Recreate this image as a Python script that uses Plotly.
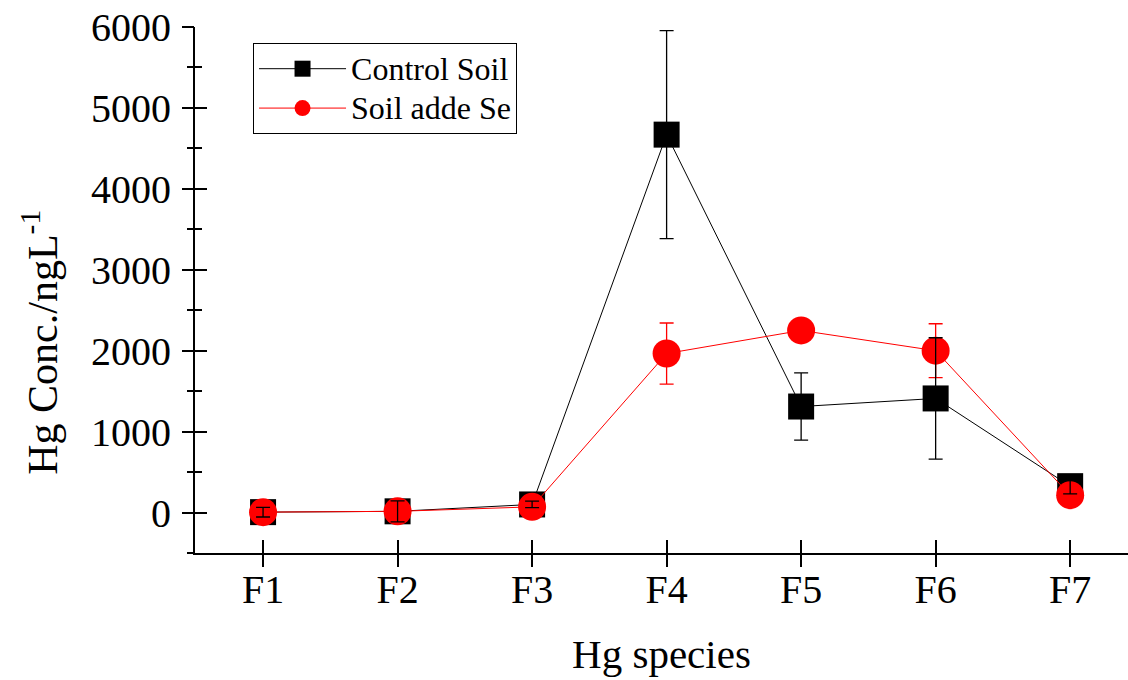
import plotly.graph_objects as go

species = ["F1", "F2", "F3", "F4", "F5", "F6", "F7"]
control_soil = [5, 15, 100, 4670, 1310, 1410, 326]
control_err = [60, 130, 40, 1285, 415, 750, 95]
se_added = [5, 15, 70, 1965, 2250, 2000, 214]
se_err = [60, 40, 30, 377, 40, 333, 30]
y_ticks = [0, 1000, 2000, 3000, 4000, 5000, 6000]
series_names = ["Control Soil", "Soil adde Se"]

FONT = "Liberation Serif, Times New Roman, serif"


def legend_label(name):
    return '<span style="font-size:32px">' + name + "</span>"


fig = go.Figure()
fig.add_trace(go.Scatter(
    x=species, y=control_soil, name=legend_label(series_names[0]), mode="lines+markers",
    line=dict(color="black", width=1),
    marker=dict(symbol="square", size=26, color="black"),
))
fig.add_trace(go.Scatter(
    x=species, y=se_added, name=legend_label(series_names[1]), mode="lines+markers",
    line=dict(color="red", width=1),
    marker=dict(symbol="circle", size=28, color="red"),
    error_y=dict(type="data", array=se_err, color="red", thickness=1.3, width=7),
))
# control error bars drawn on top (overlay axes)
fig.add_trace(go.Scatter(
    x=species, y=control_soil, mode="markers", showlegend=False,
    marker=dict(size=2, opacity=0, color="black"),
    error_y=dict(type="data", array=control_err, color="black", thickness=1.3, width=7),
    xaxis="x2", yaxis="y2", hoverinfo="skip",
))

xr = [-0.506, 6.43]
yr = [-500, 6000]
tickfont = dict(family=FONT, size=40, color="black")

fig.update_layout(
    width=1128, height=680,
    margin=dict(l=195, r=0, t=27, b=127),
    paper_bgcolor="white", plot_bgcolor="white",
    font=dict(family=FONT, color="black"),
    xaxis=dict(
        type="category", categoryorder="array", categoryarray=species,
        range=xr, showline=True, linecolor="black", linewidth=2,
        ticks="inside", ticklen=13, tickwidth=2, tickcolor="black",
        tickfont=tickfont, showgrid=False, zeroline=False, ticklabelstandoff=0,
        title=dict(text="Hg species", font=dict(family=FONT, size=41), standoff=28),
    ),
    yaxis=dict(
        range=yr, tickvals=y_ticks,
        showline=True, linecolor="black", linewidth=2,
        ticks="inside", ticklen=12, tickwidth=2, tickcolor="black",
        minor=dict(dtick=500, tick0=-500, ticks="inside", ticklen=7, tickwidth=2, tickcolor="black"),
        tickfont=tickfont, showgrid=False, zeroline=False, ticklabelstandoff=14,
    ),
    xaxis2=dict(
        type="category", categoryorder="array", categoryarray=species,
        overlaying="x", range=xr, showticklabels=False, showline=False,
        ticks="outside", ticklen=13, tickwidth=2, tickcolor="black",
        showgrid=False, zeroline=False,
    ),
    yaxis2=dict(
        overlaying="y", range=yr, tickvals=y_ticks,
        showticklabels=False, showline=False,
        ticks="outside", ticklen=12, tickwidth=2, tickcolor="black",
        minor=dict(dtick=500, tick0=-500, ticks="outside", ticklen=7, tickwidth=2, tickcolor="black"),
        showgrid=False, zeroline=False,
    ),
    legend=dict(
        x=0.0622, y=0.9696, xanchor="left", yanchor="top",
        bordercolor="black", borderwidth=1, bgcolor="white",
        font=dict(family=FONT, size=28, color="black"),
        itemwidth=87, tracegroupgap=0,
    ),
    annotations=[dict(
        text="Hg Conc./ngL<sup>-1</sup>", textangle=-90, showarrow=False,
        xref="paper", yref="paper", x=-0.166, y=0.40,
        xanchor="center", yanchor="middle",
        font=dict(family=FONT, size=42, color="black"),
    )],
    showlegend=True,
)

fig.write_html("out.html")
